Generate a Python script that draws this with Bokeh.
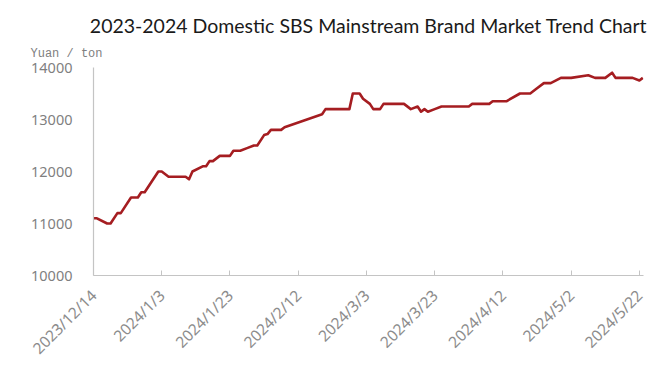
import pandas as pd
from bokeh.plotting import figure
from bokeh.models import FixedTicker, Range1d, Title
from bokeh.embed import file_html
from bokeh.resources import INLINE

# ---- data ----
dates = [
    "2023-12-14", "2023-12-15", "2023-12-18", "2023-12-19", "2023-12-21", "2023-12-22",
    "2023-12-25", "2023-12-27", "2023-12-28", "2023-12-29", "2024-01-02", "2024-01-03",
    "2024-01-05", "2024-01-10", "2024-01-11", "2024-01-12", "2024-01-15", "2024-01-16",
    "2024-01-17", "2024-01-18", "2024-01-20", "2024-01-23", "2024-01-24", "2024-01-26",
    "2024-01-28", "2024-01-30", "2024-01-31", "2024-02-02", "2024-02-03", "2024-02-04",
    "2024-02-07", "2024-02-08", "2024-02-19", "2024-02-20", "2024-02-27", "2024-02-28",
    "2024-03-01", "2024-03-02", "2024-03-04", "2024-03-05", "2024-03-07", "2024-03-08",
    "2024-03-14", "2024-03-16", "2024-03-18", "2024-03-19", "2024-03-20", "2024-03-21",
    "2024-03-23", "2024-03-25", "2024-04-02", "2024-04-03", "2024-04-08", "2024-04-09",
    "2024-04-13", "2024-04-17", "2024-04-20", "2024-04-22", "2024-04-24", "2024-04-26",
    "2024-04-29", "2024-05-02", "2024-05-07", "2024-05-09", "2024-05-12", "2024-05-14",
    "2024-05-15", "2024-05-20", "2024-05-22", "2024-05-23",
]
prices = [
    11100, 11100, 11000, 11000, 11200, 11200,
    11500, 11500, 11600, 11600, 12000, 12000,
    11900, 11900, 11850, 12000, 12100, 12100,
    12200, 12200, 12300, 12300, 12400, 12400,
    12450, 12500, 12500, 12700, 12720, 12800,
    12800, 12850, 13100, 13200, 13200, 13500,
    13500, 13400, 13300, 13200, 13200, 13300,
    13300, 13200, 13250, 13150, 13200, 13150,
    13200, 13250, 13250, 13300, 13300, 13350,
    13350, 13500, 13500, 13600, 13700, 13700,
    13800, 13800, 13850, 13800, 13800, 13900,
    13800, 13800, 13750, 13800,
]
x_tick_labels = ["2023/12/14", "2024/1/3", "2024/1/23", "2024/2/12", "2024/3/3",
                 "2024/3/23", "2024/4/12", "2024/5/2", "2024/5/22"]
y_ticks = [10000, 11000, 12000, 13000, 14000]

title_text = "2023-2024 Domestic SBS Mainstream Brand Market Trend Chart"
unit_text = "Yuan / ton"

# ---- derived positions ----
start = pd.Timestamp(dates[0])
xs = [(pd.Timestamp(d) - start).days for d in dates]
tick_pos = [(pd.Timestamp(t) - start).days for t in x_tick_labels]

W, H = 664, 372
X_END = 161.2
p = figure(width=W, height=H, output_backend="svg", toolbar_location=None,
           title=None,
           x_range=Range1d(0, X_END), y_range=Range1d(10000, 14000),
           min_border_left=93, min_border_right=W - 643, min_border_top=67,
           min_border_bottom=H - 275)
p.outline_line_color = None
p.background_fill_color = "white"
p.border_fill_color = "white"
p.xgrid.visible = False
p.ygrid.visible = False

p.line(xs, prices, line_color="#a51d21", line_width=2.6, line_join="round")

# x axis
xa = p.xaxis[0]
xa.ticker = FixedTicker(ticks=tick_pos)
xa.major_label_overrides = {float(t): l for t, l in zip(tick_pos, x_tick_labels)}
xa.major_label_orientation = 0.785
xa.axis_line_color = "#c4c4c4"
xa.axis_line_width = 1.2
xa.major_tick_line_color = "#c4c4c4"
xa.major_tick_in = 5
xa.major_tick_out = 0
xa.minor_tick_line_color = None
xa.major_label_text_font = "Noto Sans"
xa.major_label_text_font_size = "15.5px"
xa.major_label_text_color = "#8c8c8c"
xa.major_label_standoff = 17

# y axis
ya = p.yaxis[0]
ya.ticker = FixedTicker(ticks=y_ticks)
ya.axis_line_color = "#c4c4c4"
ya.axis_line_width = 1.2
ya.major_tick_line_color = None
ya.minor_tick_line_color = None
ya.major_label_text_font = "Noto Sans"
ya.major_label_text_font_size = "14.5px"
ya.major_label_text_color = "#7f7f7f"
ya.major_label_standoff = 15

# unit label (nearest the frame), then the main title above it
p.add_layout(Title(text=unit_text, align="left", offset=-63, standoff=14,
                   text_font="Liberation Mono", text_font_size="12px",
                   text_font_style="normal", text_color="#808080"), "above")
p.add_layout(Title(text=title_text, align="center", offset=4.5, standoff=2,
                   text_font="Lato", text_font_size="19.5px",
                   text_font_style="normal", text_color="#1a1a1a"), "above")

open("out.html", "w").write(file_html(p, INLINE))
